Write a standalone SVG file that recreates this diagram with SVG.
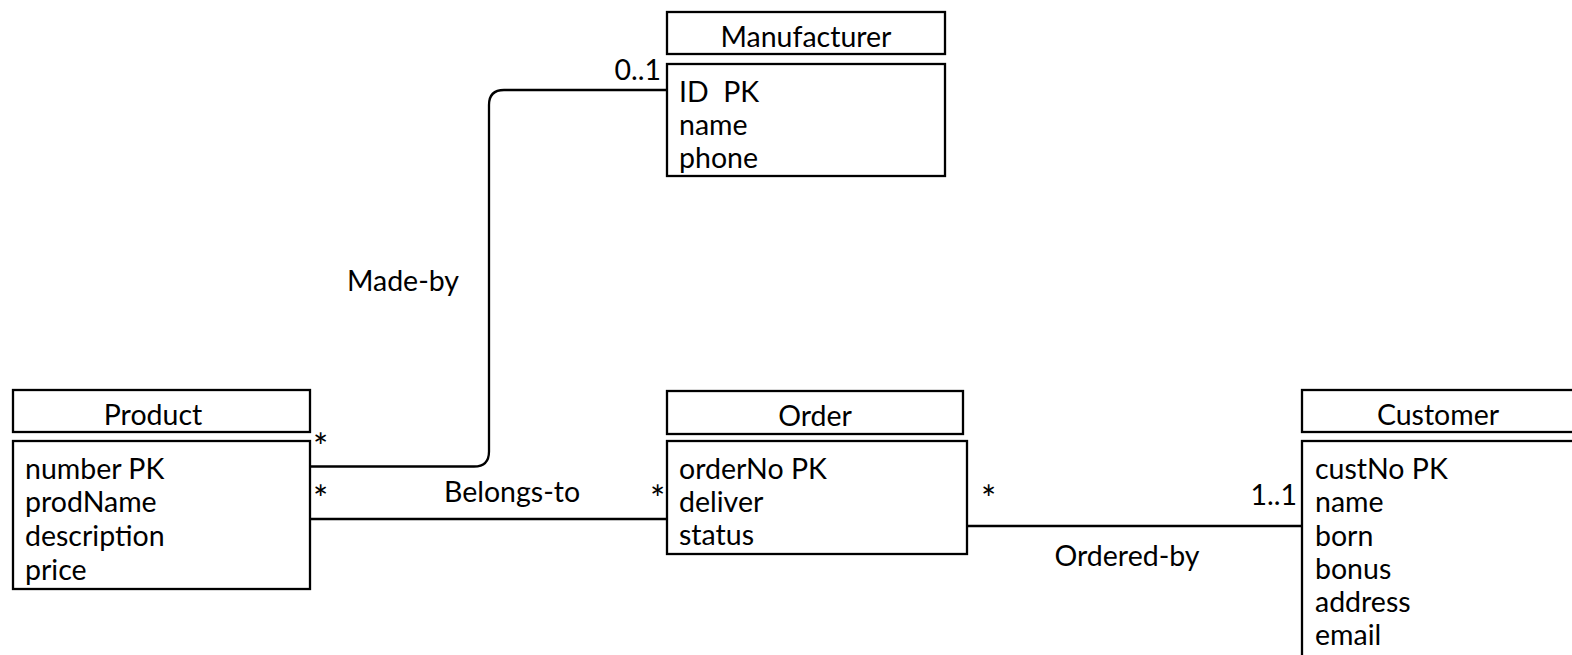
<svg xmlns="http://www.w3.org/2000/svg" width="1572" height="655" viewBox="0 0 1572 655">
<style>
.box{fill:#fff;stroke:#000;stroke-width:2.3}
.conn{fill:none;stroke:#000;stroke-width:2.3}
text{font-family:Lato,"Liberation Sans",sans-serif;font-size:28.5px;fill:#000}
.title{text-anchor:middle}
.end{text-anchor:end}
.mid{text-anchor:middle}
.star{font-size:36px}
</style>
<rect width="1572" height="655" fill="#fff"/>
<g id="connectors">
<path class="conn" d="M311,466.5 H474 Q489,466.5 489,451.5 V105 Q489,90 504,90 H667"/>
<path class="conn" d="M311,519 H667"/>
<path class="conn" d="M967,526 H1302"/>
<text x="403" y="291" class="mid">Made-by</text>
<text x="512" y="502" class="mid">Belongs-to</text>
<text x="1127" y="566" class="mid">Ordered-by</text>
<text x="661" y="80" class="end">0..1</text>
<text x="313" y="460" class="star">*</text>
<text x="313" y="512" class="star">*</text>
<text x="650" y="512" class="star">*</text>
<text x="981" y="512" class="star">*</text>
<text x="1297" y="505" class="end">1..1</text>
</g>
<g id="manufacturer">
<rect class="box" x="667" y="12" width="278" height="42"/>
<rect class="box" x="667" y="64" width="278" height="112"/>
<text x="806" y="47" class="title">Manufacturer</text>
<text x="679" y="102" xml:space="preserve">ID  PK</text>
<text x="679" y="135">name</text>
<text x="679" y="168">phone</text>
</g>
<g id="product">
<rect class="box" x="13" y="390" width="297" height="42"/>
<rect class="box" x="13" y="441" width="297" height="148"/>
<text x="153" y="425" class="title">Product</text>
<text x="25" y="479">number PK</text>
<text x="25" y="512">prodName</text>
<text x="25" y="546">description</text>
<text x="25" y="580">price</text>
</g>
<g id="order">
<rect class="box" x="667" y="391" width="296" height="43"/>
<rect class="box" x="667" y="441" width="300" height="113"/>
<text x="815" y="426" class="title">Order</text>
<text x="679" y="479">orderNo PK</text>
<text x="679" y="512">deliver</text>
<text x="679" y="545">status</text>
</g>
<g id="customer">
<rect class="box" x="1302" y="390" width="290" height="42"/>
<rect class="box" x="1302" y="441" width="290" height="240"/>
<text x="1438" y="425" class="title">Customer</text>
<text x="1315" y="479">custNo PK</text>
<text x="1315" y="512">name</text>
<text x="1315" y="546">born</text>
<text x="1315" y="579">bonus</text>
<text x="1315" y="612">address</text>
<text x="1315" y="645">email</text>
</g>
</svg>
